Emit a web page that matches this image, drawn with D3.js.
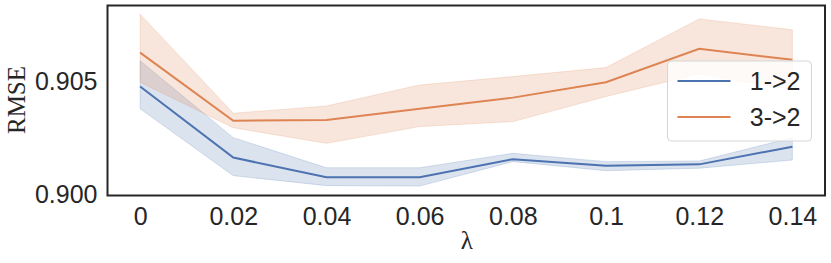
<!DOCTYPE html>
<html>
<head>
<meta charset="utf-8">
<script src="https://cdn.jsdelivr.net/npm/d3@7"></script>
<style>
  html, body { margin:0; padding:0; background:#fff; }
  svg { display:block; }
</style>
</head>
<body>
<svg id="chart" width="831" height="263"></svg>
<script>
// values
var LAMBDAS  = [0, 0.02, 0.04, 0.06, 0.08, 0.1, 0.12, 0.14];
var X_TICKS  = ['0', '0.02', '0.04', '0.06', '0.08', '0.1', '0.12', '0.14'];
var Y_TICKS  = [0.900, 0.905];

var S1_MEAN  = [0.90475, 0.90161, 0.90074, 0.90074, 0.90154, 0.90125, 0.90131, 0.90209];
var S1_HI    = [0.90589, 0.90249, 0.90116, 0.90116, 0.90180, 0.90143, 0.90146, 0.90249];
var S1_LO    = [0.90377, 0.90081, 0.90037, 0.90035, 0.90143, 0.90103, 0.90114, 0.90150];

var S2_MEAN  = [0.90625, 0.90324, 0.90327, 0.90377, 0.90426, 0.90494, 0.90642, 0.90593];
var S2_HI    = [0.90795, 0.90357, 0.90389, 0.90482, 0.90519, 0.90559, 0.90774, 0.90726];
var S2_LO    = [0.90494, 0.90293, 0.90224, 0.90298, 0.90320, 0.90431, 0.90531, 0.90460];

var SERIES = [
  { name:'1->2', mean:S1_MEAN, hi:S1_HI, lo:S1_LO, color:'#4c72b0' },
  { name:'3->2', mean:S2_MEAN, hi:S2_HI, lo:S2_LO, color:'#dd8452' }
];

var svg = d3.select('#chart');
var M = { left:107.5, right:825, top:5.5, bottom:195.5 };
var INK = '#262626';

// seaborn pads the numeric x range by 5% on each side
var x = d3.scaleLinear([-0.007, 0.147], [M.left, M.right]);
var y = d3.scaleLinear([0.899934, 0.908332], [M.bottom, M.top]);

var gBand = svg.append('g'), gLine = svg.append('g');

SERIES.forEach(function(s){
  var pts = LAMBDAS.map(function(l, i){ return { l:l, m:s.mean[i], hi:s.hi[i], lo:s.lo[i] }; });
  var area = d3.area().x(function(d){ return x(d.l); })
      .y0(function(d){ return y(d.lo); }).y1(function(d){ return y(d.hi); });
  var line = d3.line().x(function(d){ return x(d.l); }).y(function(d){ return y(d.m); });
  gBand.append('path').attr('d', area(pts))
      .attr('fill', s.color).attr('fill-opacity', 0.2)
      .attr('stroke', s.color).attr('stroke-opacity', 0.2).attr('stroke-width', 1);
  gLine.append('path').attr('d', line(pts))
      .attr('fill','none').attr('stroke', s.color).attr('stroke-width', 2);
});

// frame
svg.append('rect')
  .attr('x', M.left).attr('y', M.top)
  .attr('width', M.right - M.left).attr('height', M.bottom - M.top)
  .attr('fill','none').attr('stroke', INK).attr('stroke-width', 2);

// axes, no tick marks (seaborn white style)
var xAxis = svg.append('g').attr('transform','translate(0,'+M.bottom+')')
  .call(d3.axisBottom(x).tickValues(LAMBDAS)
        .tickFormat(function(d, i){ return X_TICKS[i]; })
        .tickSize(0).tickPadding(12));
var yAxis = svg.append('g').attr('transform','translate('+M.left+',0)')
  .call(d3.axisLeft(y).tickValues(Y_TICKS).tickFormat(d3.format('.3f'))
        .tickSize(0).tickPadding(10));
[xAxis, yAxis].forEach(function(a){
  a.select('.domain').remove();
  a.selectAll('text').attr('fill', INK)
    .style('font-family','"Liberation Sans", Arial, sans-serif').style('font-size','25px');
});
yAxis.selectAll('text').attr('dy','0.35em');

// axis titles
svg.append('text').attr('x', (M.left + M.right)/2 + 0.5).attr('y', 249)
  .attr('text-anchor','middle').attr('fill', INK)
  .style('font-family','"Liberation Serif", "Times New Roman", serif').style('font-size','25px')
  .text('λ');
svg.append('text').attr('transform','translate(25,100) rotate(-90)')
  .attr('text-anchor','middle').attr('fill', INK)
  .style('font-family','"Liberation Serif", "Times New Roman", serif').style('font-size','25px')
  .text('RMSE');

// legend
var lg = svg.append('g').attr('transform','translate(667.5,61)');
lg.append('rect').attr('width', 144).attr('height', 80).attr('rx', 4)
  .attr('fill','#fff').attr('fill-opacity', 0.8)
  .attr('stroke','#d6d6d6').attr('stroke-width', 1);
SERIES.forEach(function(s, i){
  var yy = 20 + i*36;
  lg.append('line').attr('x1', 10).attr('x2', 63).attr('y1', yy).attr('y2', yy)
    .attr('stroke', s.color).attr('stroke-width', 2);
  lg.append('text').attr('x', 133).attr('y', yy).attr('dy','0.35em')
    .attr('text-anchor','end').attr('fill', INK)
    .style('font-family','"Liberation Sans", Arial, sans-serif').style('font-size','25px')
    .text(s.name);
});
</script>
</body>
</html>
